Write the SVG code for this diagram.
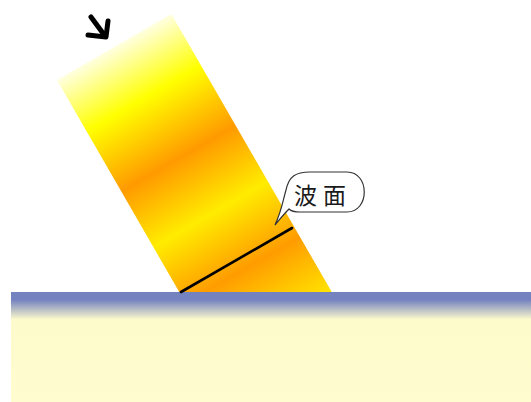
<svg xmlns="http://www.w3.org/2000/svg" width="531" height="402" viewBox="0 0 531 402">
  <style>
    .label { font-family: "Noto Sans CJK JP", "Noto Sans CJK SC", "DejaVu Sans", sans-serif; font-size: 23px; fill: #1a1a1a; letter-spacing: 6px; }
    .ink { fill: none; stroke: #000; stroke-linecap: round; stroke-linejoin: round; }
  </style>
  <defs>
    <!-- light beam: stripes run across the beam, along its direction of travel -->
    <linearGradient id="beamFill" gradientUnits="userSpaceOnUse" x1="57" y1="80" x2="222" y2="365.8">
      <stop offset="0" stop-color="#ffffe0"/>
      <stop offset="0.18" stop-color="#ffff00"/>
      <stop offset="0.39" stop-color="#ff9a00"/>
      <stop offset="0.585" stop-color="#ffec00"/>
      <stop offset="0.78" stop-color="#ff9c00"/>
      <stop offset="1" stop-color="#ffee00"/>
    </linearGradient>
    <!-- surface of the medium -->
    <linearGradient id="groundFill" x1="0" y1="0" x2="0" y2="1">
      <stop offset="0" stop-color="#7482c0"/>
      <stop offset="0.07" stop-color="#7482c0"/>
      <stop offset="0.25" stop-color="#fdfbcc"/>
      <stop offset="1" stop-color="#fffdcf"/>
    </linearGradient>
  </defs>

  <rect width="531" height="402" fill="#fff"/>

  <!-- incident beam -->
  <g id="beam">
    <polygon points="57,80 171.3,14 333.5,295 181,295" fill="url(#beamFill)"/>
  </g>

  <!-- medium -->
  <g id="ground">
    <rect x="11" y="292" width="520" height="110" fill="url(#groundFill)"/>
  </g>

  <g id="connectors">
    <!-- wavefront across the beam -->
    <line id="wavefront" x1="181" y1="292" x2="292" y2="228" stroke="#000" stroke-width="2.6" stroke-linecap="round"/>
    <!-- direction of travel -->
    <g id="arrow" class="ink" stroke-width="5">
      <line x1="91" y1="17" x2="105" y2="36"/>
      <polyline points="88,35 106,37 108,21"/>
    </g>
  </g>

  <!-- callout -->
  <g id="callout">
    <path d="M275,225 C282,210 283,200 286,190 C289,176 296,172 310,172 L347,172 C370,172 370,212 347,212 L300,212 C293,212 291,211 289,209 C284,214 280,219 275,225 Z" fill="#fff" stroke="#333" stroke-width="1.2"/>
    <text class="label" x="294" y="204">波面</text>
  </g>
</svg>
